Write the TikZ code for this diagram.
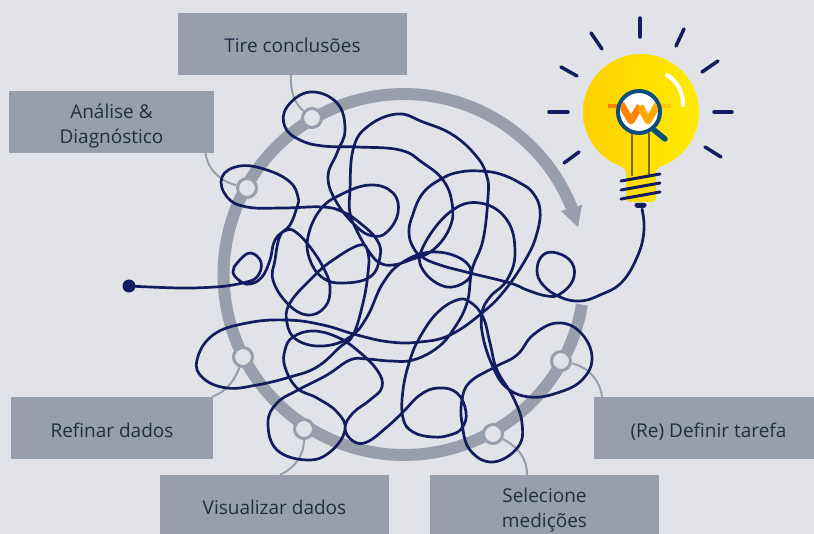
\documentclass[tikz,border=0pt]{standalone}
\usepackage{fontspec}
\setmainfont{Open Sans}
\definecolor{bgc}{HTML}{E1E3E9}
\definecolor{grayc}{HTML}{989FAA}
\definecolor{navyc}{HTML}{131C5E}
\definecolor{textc}{HTML}{1E2F45}
\definecolor{lensc}{HTML}{0B4F7E}
\definecolor{bulbl}{HTML}{FFD000}
\definecolor{bulbr}{HTML}{FFEC00}
\definecolor{filc}{HTML}{7A6A10}
\definecolor{wl}{HTML}{FF8200}
\definecolor{wr}{HTML}{FFAA00}
\newcommand{\tl}[2]{\raisebox{-#1pt}[0pt][0pt]{#2}}
\tikzset{
  stepbox/.style={fill=grayc,inner sep=0pt,text=textc,align=center,font=\fontsize{19}{25}\selectfont},
  stopdot/.style={circle,draw=grayc,line width=3pt,fill=bgc,minimum size=19pt,inner sep=0pt},
  conn/.style={draw=grayc,line width=2pt},
  ray/.style={draw=navyc,line width=3.5pt,line cap=round},
  scribble/.style={draw=navyc,line width=2.7pt,line join=round,line cap=round},
  coil/.style={draw=navyc,line width=3pt,line cap=round},
}
\begin{document}
\begin{tikzpicture}[x=1pt,y=-1pt]
\useasboundingbox (0,0) rectangle (814,534);
\fill[bgc] (0,0) rectangle (814,534);
% ring
\draw[grayc,line width=12pt] plot[domain=9.6:338.6,samples=160] ({404+180.5*cos(\x)},{274.5+180.5*sin(\x)});
\fill[grayc] (561,211) -- (582,205) -- (578,227) -- cycle;
% boxes
\node[stepbox,minimum width=229pt,minimum height=62pt] (tire) at (292.5,44) {\tl{8.5}{Tire conclusões}};
\node[stepbox,minimum width=205pt,minimum height=62pt] (analise) at (111.5,122) {\tl{9}{Análise \&}\\\tl{9}{Diagnóstico}};
\node[stepbox,minimum width=202pt,minimum height=62pt] (refinar) at (112,428) {\tl{9.5}{Refinar dados}};
\node[stepbox,minimum width=229pt,minimum height=59pt] (visual) at (274.5,504.5) {\tl{10}{Visualizar dados}};
\node[stepbox,minimum width=229pt,minimum height=59pt] (selec) at (544.5,504.5) {\tl{10}{Selecione}\\\tl{10}{medições}};
\node[stepbox,minimum width=220pt,minimum height=62pt] (defin) at (704,428) {\tl{9.5}{\hspace*{9pt}(Re) Definir tarefa}};
% stops
\node[stopdot] (s1) at (312,118) {};
\node[stopdot] (s2) at (247,188) {};
\node[stopdot] (s3) at (243,357) {};
\node[stopdot] (s4) at (304,429) {};
\node[stopdot] (s5) at (493,434) {};
\node[stopdot] (s6) at (561,361) {};
% connectors
\draw[conn] ([xshift=-1.5pt]tire.south) .. controls (290,92) and (295,104) .. (s1);
\draw[conn] ([xshift=94pt]analise.south) .. controls (208,170) and (220,181) .. (s2);
\draw[conn] ([xshift=100pt]refinar.north) .. controls (226,392) and (235,380) .. (s3);
\draw[conn] ([xshift=5.5pt]visual.north) .. controls (295,468) and (304,455) .. (s4);
\draw[conn] ([xshift=-17.5pt]selec.north) .. controls (527,458) and (518,447) .. (s5);
\draw[conn] ([xshift=-102pt]defin.north) .. controls (600,380) and (588,367) .. (s6);
% bulb
\path[left color=bulbl,right color=bulbr] (622,167)
  .. controls (627,170) and (626,172) .. (626,178) -- (626,197)
  .. controls (626,201) and (628,202) .. (631,202) -- (651,202)
  .. controls (654,202) and (656,201) .. (656,197) -- (656,178)
  .. controls (656,172) and (655,170) .. (660,167)
  -- plot[domain=70.9:-250.9,samples=90] ({641+58*cos(\x)},{112+58*sin(\x)}) -- cycle;
\draw[white,line width=4pt,line cap=round] (667,75) .. controls (677,81) and (683,92) .. (683,105);
\draw[filc,line width=1.2pt] (632,133) -- (632,176) (649,133) -- (649,176);
\draw[wl,line width=4pt] (608,106) -- (620,106);
\draw[wr!70!yellow,line width=4pt] (660,106) -- (671,106);
\draw[lensc,line width=5.5pt,line cap=round] (654,130) -- (665,139);
\draw[lensc,line width=4pt,fill=white] (639,112) circle[radius=21];
\begin{scope}
\clip (639,112) circle[radius=19];
\draw[wl,line width=7pt,line join=round] (621,104) -- (631,121) -- (640,106);
\draw[wr,line width=7pt,line join=round] (640,106) -- (648,121) -- (658,104);
\end{scope}
\draw[coil] (621,181) -- (660,174);
\draw[coil] (621,190) -- (660,183);
\draw[coil] (621,199) -- (660,192);
\fill[navyc,rounded corners=2.5pt] (634,203) -- (647,203) -- (646,208) -- (635,208) -- cycle;
% rays
\draw[ray] (640,18) -- (640,37);
\draw[ray] (684,29) -- (676,46);
\draw[ray] (718,61) -- (702,72);
\draw[ray] (732,112) -- (714,112);
\draw[ray] (721,157) -- (705,147);
\draw[ray] (591,33) -- (602,49);
\draw[ray] (561,67) -- (577,76);
\draw[ray] (549,112) -- (568,112);
\draw[ray] (579,152) -- (564,163);
% scribble
\node[circle,fill=navyc,minimum size=13pt,inner sep=0pt] (start) at (129,286) {};
\coordinate (tip) at (642,209);
\draw[scribble] plot[smooth,tension=0.7] coordinates {
(start) (180,288) (215,287) (233,285) (243,283) (257,277) (261,262) (250,253) (238,262) (233,272) (240,281) (250,284) (262,277)
(270,260) (275,240) (287,230) (297,233) (310,247) (323,267) (330,287) (325,307) (307,315) (287,303) (273,280) (275,260)
(280,236) (290,225) (297,207) (298,197) (290,182) (267,170) (240,166) (222,177) (227,197) (247,207) (283,208) (323,207)
(343,212) (360,223) (377,240) (380,257) (370,277) (343,283) (323,278) (310,260) (308,237) (320,210) (340,195) (370,185)
(393,193) (398,213) (387,232) (373,236) (357,227) (337,203) (328,177) (337,153) (345,130) (337,103) (310,92) (287,107)
(285,127) (300,140) (323,146) (357,147) (400,150) (423,163) (443,180) (452,203) (450,227) (433,250) (410,260) (393,265)
(380,263) (370,253) (358,233) (350,213) (350,190) (353,150) (367,127) (397,114) (423,122) (453,135) (477,157) (487,177)
(488,197) (483,240) (472,270) (467,303) (453,330) (437,348) (413,360) (390,361) (367,359) (350,360) (327,375) (298,390)
(277,403) (268,423) (277,450) (307,460) (330,452) (345,430) (337,412) (317,398) (297,388) (285,367) (285,350) (293,337)
(313,331) (337,337) (357,350) (377,370) (382,387) (370,400) (353,413) (345,428) (353,441) (367,442) (387,427) (403,412)
(420,395) (438,388) (457,393) (466,412) (462,428) (450,435) (433,437) (413,432) (403,418) (403,390) (410,360) (420,337)
(437,313) (457,300) (470,302) (483,317) (490,343) (497,370) (513,397) (522,423) (518,447) (493,462) (470,450) (462,423)
(462,400) (470,382) (495,367) (517,355) (533,335) (557,323) (580,332) (592,357) (582,380) (557,393) (530,397) (507,388)
(493,367) (483,337) (482,313) (490,297) (507,280) (515,253) (507,220) (480,203) (450,212) (423,247) (423,270) (447,287)
(470,277) (463,260) (433,252) (403,262) (383,283) (367,317) (350,337) (323,346) (297,340) (287,323) (290,303) (313,277)
(333,260) (360,245) (368,253) (368,273) (363,303) (353,335) (340,347) (317,367) (290,377) (257,385) (227,388) (203,378)
(197,360) (213,335) (247,323) (287,320) (323,325) (357,335) (390,342) (420,342) (450,335) (482,313) (505,290) (527,257)
(537,233) (540,210) (533,193) (520,183) (500,174) (480,171) (460,172) (443,178) (423,193) (412,217) (409,233) (413,247)
(422,257) (440,265) (470,273) (510,283) (527,290) (547,296) (560,294) (573,280) (572,263) (557,253) (543,255) (537,270)
(543,285) (560,297) (580,301) (600,295) (622,282) (638,255) (644,230) (tip)};
\end{tikzpicture}
\end{document}
